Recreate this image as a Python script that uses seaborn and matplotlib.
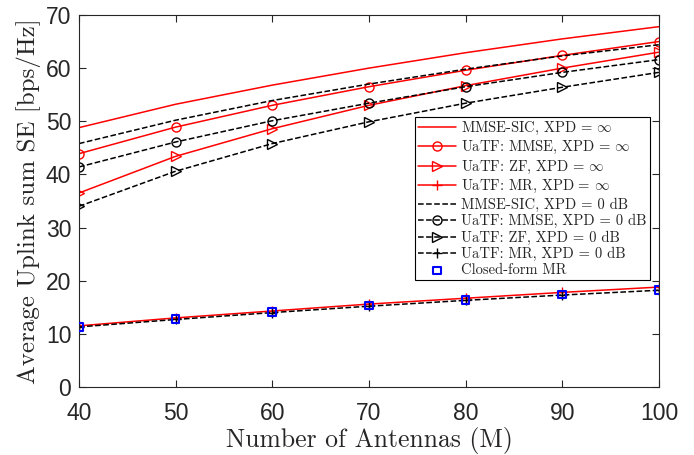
import matplotlib
matplotlib.use('Agg')
import matplotlib.pyplot as plt
import pandas as pd
import seaborn as sns

# Number of antennas
antennas = [40, 50, 60, 70, 80, 90, 100]

# XPD = inf
sic_inf = [48.8, 53.2, 56.8, 60.0, 62.9, 65.5, 67.8]
mmse_inf = [43.9, 48.9, 53.0, 56.5, 59.6, 62.4, 65.0]
zf_inf = [36.5, 43.4, 48.6, 53.0, 56.7, 60.0, 63.0]
mr_inf = [11.5, 13.0, 14.3, 15.6, 16.7, 17.8, 18.8]

# XPD = 0 dB
sic_0db = [45.8, 50.2, 53.9, 57.0, 59.8, 62.3, 64.4]
mmse_0db = [41.4, 46.1, 50.1, 53.4, 56.5, 59.2, 61.6]
zf_0db = [34.0, 40.6, 45.8, 49.9, 53.4, 56.4, 59.2]
mr_0db = [11.3, 12.7, 14.0, 15.2, 16.3, 17.3, 18.2]

closed_form_mr = [11.3, 12.8, 14.1, 15.3, 16.4, 17.4, 18.3]

sns.set_style('ticks')
plt.rcParams['mathtext.fontset'] = 'cm'
plt.rcParams['font.family'] = ['Liberation Sans', 'DejaVu Sans']

series = [
    ('MMSE-SIC, XPD = $\\infty$', sic_inf, 'red', '-', None),
    ('UaTF: MMSE, XPD = $\\infty$', mmse_inf, 'red', '-', 'o'),
    ('UaTF: ZF, XPD = $\\infty$', zf_inf, 'red', '-', '>'),
    ('UaTF: MR, XPD = $\\infty$', mr_inf, 'red', '-', '+'),
    ('MMSE-SIC, XPD = 0 dB', sic_0db, 'black', '--', None),
    ('UaTF: MMSE, XPD = 0 dB', mmse_0db, 'black', '--', 'o'),
    ('UaTF: ZF, XPD = 0 dB', zf_0db, 'black', '--', '>'),
    ('UaTF: MR, XPD = 0 dB', mr_0db, 'black', '--', '+'),
]

fig = plt.figure(figsize=(6.94, 4.55), dpi=100)
ax = fig.add_axes([0.1138, 0.1495, 0.8357, 0.8176])

for label, vals, color, ls, marker in series:
    df = pd.DataFrame({'M': antennas, 'SE': vals})
    sns.lineplot(data=df, x='M', y='SE', ax=ax, color=color, linestyle=ls,
                 marker=marker, markersize=6.5, markerfacecolor='none',
                 markeredgecolor=color, markeredgewidth=1.0, linewidth=1.1,
                 dashes=(6, 3.5) if ls == '--' else None, label=label)

df_cf = pd.DataFrame({'M': antennas, 'SE': closed_form_mr})
sns.scatterplot(data=df_cf, x='M', y='SE', ax=ax, marker='s', s=30,
                facecolor='none', edgecolor='blue', linewidth=1.5,
                label='Closed-form MR', zorder=5)

ax.set_xlim(40, 100)
ax.set_ylim(0, 70)
ax.set_xticks(range(40, 101, 10))
ax.set_yticks(range(0, 71, 10))
ax.tick_params(direction='in', top=True, right=True, labelsize=16.5, length=5,
               color='#262626', labelcolor='#262626')
ax.tick_params(axis='x', pad=11)
ax.tick_params(axis='y', pad=5.5)
for s in ax.spines.values():
    s.set_visible(True)
    s.set_color('#262626')
    s.set_linewidth(0.8)

ax.set_xlabel('Number of Antennas (M)', family='cmr10', fontsize=18.5,
              labelpad=1.5)
ax.set_ylabel('Average Uplink sum SE [bps/Hz]', family='cmr10', fontsize=18,
              labelpad=3.5)

leg = ax.legend(loc='upper right', bbox_to_anchor=(0.984, 0.726),
                prop={'family': 'cmr10', 'size': 10.5}, fancybox=False,
                edgecolor='black', framealpha=1, handlelength=2.65,
                handletextpad=0.34, labelspacing=0.16, borderpad=0.2,
                borderaxespad=0)
leg.get_frame().set_linewidth(0.8)

plt.savefig('out.png', dpi=100)
